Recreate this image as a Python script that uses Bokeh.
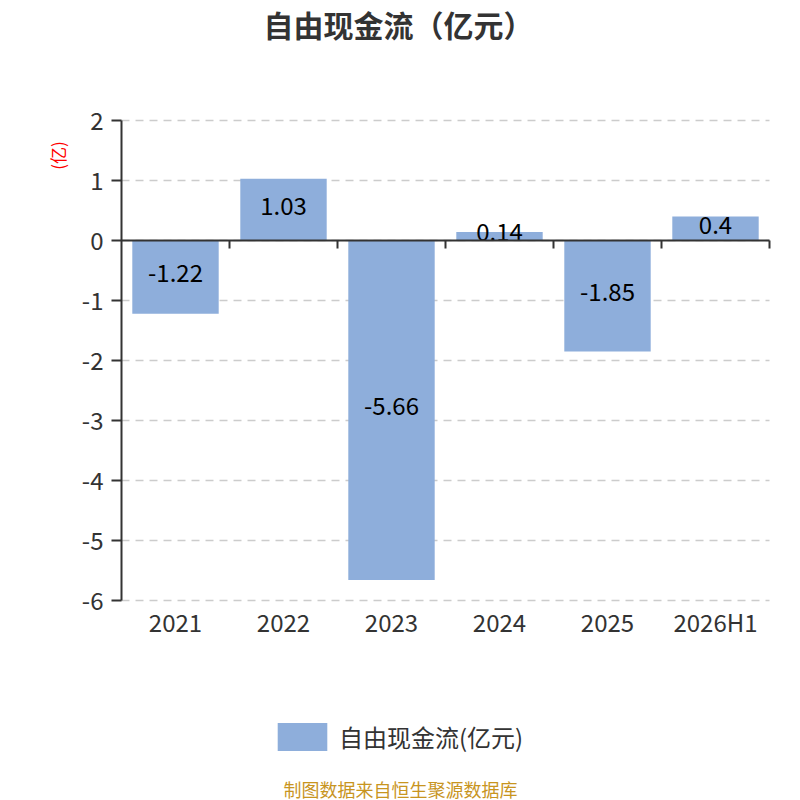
from bokeh.plotting import figure
from bokeh.models import (Range1d, FixedTicker, Legend, LegendItem, Label,
                          LinearAxis, ColumnDataSource)
from bokeh.core.properties import value
from bokeh.embed import file_html
from bokeh.resources import INLINE
import math

# ---------------- data ----------------
title_text = "自由现金流（亿元）"
categories = ["2021", "2022", "2023", "2024", "2025", "2026H1"]
values = [-1.22, 1.03, -5.66, 0.14, -1.85, 0.4]
value_labels = ["-1.22", "1.03", "-5.66", "0.14", "-1.85", "0.4"]
y_ticks = [2, 1, 0, -1, -2, -3, -4, -5, -6]
y_tick_labels = ["2", "1", "0", "-1", "-2", "-3", "-4", "-5", "-6"]
series_name = "自由现金流(亿元)"
unit_label = "(亿)"
source_text = "制图数据来自恒生聚源数据库"

# ---------------- style / layout ----------------
FONT = "Noto Sans CJK SC"
BAR = "#8eaedb"
AX = "#333333"
W, H = 800, 800
PL, PR, PT, PB = 121, 769, 120, 600   # plot area in canvas pixels

n = len(categories)
centers = [i + 0.5 for i in range(n)]
bounds = [i + 1 for i in range(n)]
mids = [v / 2 for v in values]
ymin, ymax = min(y_ticks), max(y_ticks)

xu = (PR - PL) / n
yu = (PB - PT) / (ymax - ymin)
x_range = Range1d(-PL / xu, n + (W - PR) / xu)
y_range = Range1d(ymin - (H - PB) / yu, ymax + PT / yu)

p = figure(width=W, height=H, output_backend="svg", toolbar_location=None,
           x_range=x_range, y_range=y_range, title=None,
           x_axis_location=None, y_axis_location=None,
           min_border=0, min_border_left=0, min_border_right=0,
           min_border_top=0, min_border_bottom=0)
p.outline_line_color = None
p.background_fill_color = "white"
p.border_fill_color = "white"
p.xgrid.visible = False
p.ygrid.visible = False

# dashed horizontal grid lines across the plot area
p.segment(x0=[0] * len(y_ticks), x1=[n] * len(y_ticks), y0=y_ticks, y1=y_ticks,
          line_color="#cccccc", line_dash="8 6", line_width=1.5)

src = ColumnDataSource(dict(x=centers, top=values, mid=mids, lab=value_labels))
r = p.vbar(x="x", top="top", bottom=0, width=0.8, source=src,
           fill_color=BAR, line_color=None)

p.text(x="x", y="mid", text="lab", source=src, text_align="center",
       text_baseline="middle", text_font=value(FONT), text_font_size="24px",
       text_color="#000000", y_offset=-4)

# y axis
ya = LinearAxis(fixed_location=0, bounds=(ymin, ymax),
                ticker=FixedTicker(ticks=y_ticks))
ya.major_label_overrides = {t: lab for t, lab in zip(y_ticks, y_tick_labels)}
ya.axis_line_color = AX
ya.axis_line_width = 2
ya.major_tick_line_color = AX
ya.major_tick_line_width = 2
ya.major_tick_out = 10
ya.major_tick_in = 0
ya.minor_tick_line_color = None
ya.major_label_standoff = 8
ya.major_label_text_font = FONT
ya.major_label_text_font_size = "24px"
ya.major_label_text_color = AX
p.add_layout(ya, "left")

# x axis at zero: line and category boundary ticks
xz = LinearAxis(fixed_location=0, bounds=(0, n), ticker=FixedTicker(ticks=bounds))
xz.major_label_overrides = {b: "" for b in bounds}
xz.axis_line_color = AX
xz.axis_line_width = 2
xz.major_tick_line_color = AX
xz.major_tick_line_width = 2
xz.major_tick_out = 8
xz.major_tick_in = 0
xz.minor_tick_line_color = None
p.add_layout(xz, "below")

# x axis at bottom: category labels only
xa = LinearAxis(fixed_location=ymin, ticker=FixedTicker(ticks=centers))
xa.major_label_overrides = {c: lab for c, lab in zip(centers, categories)}
xa.axis_line_color = None
xa.major_tick_line_color = None
xa.minor_tick_line_color = None
xa.major_tick_out = 0
xa.major_tick_in = 0
xa.major_label_standoff = 3
xa.major_label_text_font = FONT
xa.major_label_text_font_size = "24px"
xa.major_label_text_color = AX
p.add_layout(xa, "below")

# texts (screen units from the bottom-left of the canvas-sized frame)
p.add_layout(Label(x=W / 2 - 2, y=H - 23, x_units="screen", y_units="screen",
                   text=title_text, text_font=FONT, text_font_size="30px",
                   text_font_style="bold", text_color=AX,
                   text_align="center", text_baseline="middle"))
p.add_layout(Label(x=57, y=H - 155, x_units="screen", y_units="screen",
                   text=unit_label, text_font=FONT, text_font_size="17px",
                   text_color="#ff0000", angle=math.pi / 2,
                   text_align="center", text_baseline="middle"))
p.add_layout(Label(x=W / 2, y=H - 788, x_units="screen", y_units="screen",
                   text=source_text, text_font=FONT, text_font_size="18px",
                   text_color="#c8951f", text_align="center", text_baseline="middle"))

legend = Legend(items=[LegendItem(label=series_name, renderers=[r])],
                location=(271, H - 753.5), orientation="horizontal",
                glyph_width=62, glyph_height=35, label_standoff=6,
                label_text_font=FONT, label_text_font_size="24px",
                label_text_color=AX, border_line_color=None,
                background_fill_alpha=0, padding=0, margin=0, spacing=0)
p.add_layout(legend, "center")

open("out.html", "w").write(file_html(p, INLINE))
